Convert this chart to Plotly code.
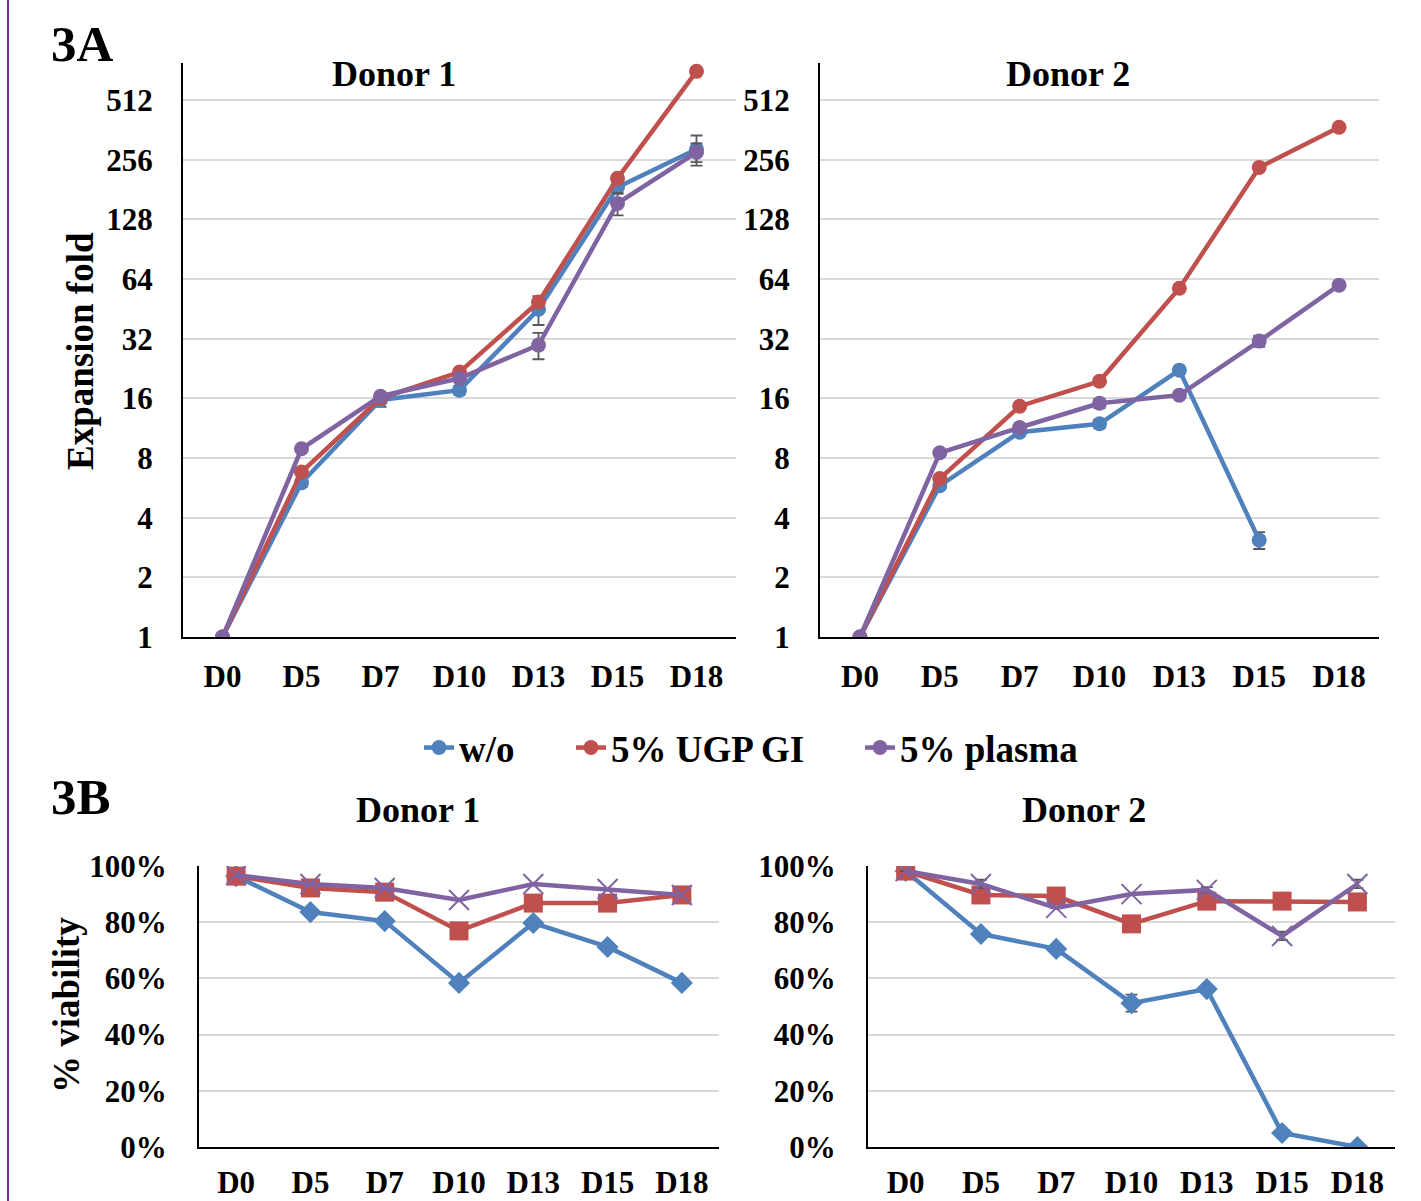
import plotly.graph_objects as go

# ---- data ---------------------------------------------------------------
days = ["D0", "D5", "D7", "D10", "D13", "D15", "D18"]
series_names = ["w/o", "5% UGP GI", "5% plasma"]
colors = ["#4F81BD", "#C0504D", "#8064A2"]

# 3A: expansion fold (log2 scale)
fold_d1_wo = [1, 6.0, 15.7, 17.6, 45, 186, 289]
fold_d1_ugp = [1, 6.8, 16.0, 21.7, 49, 206, 714]
fold_d1_plasma = [1, 8.9, 16.4, 20.2, 29.7, 154, 279]
err_d1_wo = [0, 0.3, 1.2, 0.9, 7.5, 14, 50]
err_d1_ugp = [0, 0, 0, 0, 0, 0, 0]
err_d1_plasma = [0, 0, 0, 0, 4.5, 20, 30]

fold_d2_wo = [1, 5.8, 10.8, 11.9, 22.2, 3.08, None]
fold_d2_ugp = [1, 6.3, 14.6, 19.5, 57.5, 234, 373]
fold_d2_plasma = [1, 8.5, 11.4, 15.1, 16.6, 31.1, 59.6]
err_d2_wo = [0, 0, 0, 0.6, 0, 0.3, 0]
err_d2_ugp = [0, 0, 0, 0, 0, 0, 0]
err_d2_plasma = [0, 0, 0, 0.8, 0, 2.0, 1.5]

fold_ticks = [1, 2, 4, 8, 16, 32, 64, 128, 256, 512]

# 3B: % viability
via_d1_wo = [96.4, 83.6, 80.4, 58.4, 79.7, 71.2, 58.4]
via_d1_ugp = [96.4, 92.2, 90.7, 76.9, 86.8, 86.8, 89.7]
via_d1_plasma = [96.8, 93.6, 92.2, 87.9, 93.6, 91.8, 89.7]

via_d2_wo = [98.2, 75.8, 70.5, 51.2, 56.2, 5.0, 0.0]
via_d2_ugp = [98.2, 89.7, 89.3, 79.4, 87.5, 87.5, 87.2]
via_d2_plasma = [98.2, 93.6, 85.1, 90.0, 91.5, 75.1, 93.6]
err_via_d2_wo = [0, 0, 0, 3.0, 0, 0, 0]
err_via_d2_plasma = [0, 1.5, 0, 0, 1.0, 1.5, 1.5]

via_ticks = [0, 20, 40, 60, 80, 100]
via_labels = ["0%", "20%", "40%", "60%", "80%", "100%"]

# ---- layout constants -----------------------------------------------------
W, H = 1421, 1201
FONT = "Liberation Serif"
GRID = "#D9D9D9"
ERRC = "#595959"


def px_x(p):
    return p / W


def px_y(p):
    return 1 - p / H


fig = go.Figure()
legend_ids = ["legend", "legend2", "legend3"]


def add_fold(xa, ya, vals, errs, idx, show):
    fig.add_trace(go.Scatter(
        x=days, y=vals, name=series_names[idx], mode="lines+markers",
        line=dict(color=colors[idx], width=4.5),
        marker=dict(symbol="circle", size=15, color=colors[idx]),
        error_y=dict(type="data", array=errs, visible=any(e > 0 for e in errs),
                     color=ERRC, thickness=1.8, width=6),
        xaxis=xa, yaxis=ya, showlegend=show, legend=legend_ids[idx],
        connectgaps=False,
    ))


add_fold("x", "y", fold_d1_wo, err_d1_wo, 0, True)
add_fold("x", "y", fold_d1_ugp, err_d1_ugp, 1, True)
add_fold("x", "y", fold_d1_plasma, err_d1_plasma, 2, True)
add_fold("x2", "y2", fold_d2_wo, err_d2_wo, 0, False)
add_fold("x2", "y2", fold_d2_ugp, err_d2_ugp, 1, False)
add_fold("x2", "y2", fold_d2_plasma, err_d2_plasma, 2, False)


def add_via(xa, ya, vals, errs, idx, symbol, size):
    mk = dict(symbol=symbol, size=size, color=colors[idx])
    if symbol == "x-thin":
        mk["line"] = dict(color=colors[idx], width=2)
    fig.add_trace(go.Scatter(
        x=days, y=vals, name=series_names[idx], mode="lines+markers",
        line=dict(color=colors[idx], width=4.5),
        marker=mk,
        error_y=dict(type="data", array=errs, visible=any(e > 0 for e in errs),
                     color=ERRC, thickness=1.8, width=6),
        xaxis=xa, yaxis=ya, showlegend=False,
    ))


zero = [0] * 7
for xa, ya, wo, ugp, pl, ewo, epl in [
    ("x3", "y3", via_d1_wo, via_d1_ugp, via_d1_plasma, zero, zero),
    ("x4", "y4", via_d2_wo, via_d2_ugp, via_d2_plasma, err_via_d2_wo, err_via_d2_plasma),
]:
    add_via(xa, ya, wo, ewo, 0, "diamond", 17)
    add_via(xa, ya, ugp, zero, 1, "square", 19)
    add_via(xa, ya, pl, epl, 2, "x-thin", 20)

tick_font = dict(family=FONT, size=31, color="black", weight="bold")

xcommon = dict(type="category", range=[-0.5, 6.5], showline=True, linecolor="black",
               linewidth=2, showgrid=False, ticks="", tickfont=tick_font,
               ticklabelstandoff=11, automargin=False)
xlow = dict(xcommon, ticklabelstandoff=7)
ylog = dict(type="log", range=[0, 9.62 * 0.30103], tickvals=fold_ticks,
            ticktext=[str(v) for v in fold_ticks], showline=True, linecolor="black",
            linewidth=2, showgrid=True, gridcolor=GRID, gridwidth=2, ticks="",
            tickfont=tick_font, ticklabelstandoff=22, zeroline=False, automargin=False)
ylin = dict(range=[0, 100], tickvals=via_ticks, ticktext=via_labels, showline=True,
            linecolor="black", linewidth=2, showgrid=True, gridcolor=GRID, gridwidth=2,
            ticks="", tickfont=tick_font, ticklabelstandoff=24, zeroline=False,
            automargin=False)

legend_font = dict(family=FONT, size=37, color="black", weight="bold")
legend_x = [419, 571, 860]


def legend_box(px):
    return dict(x=px_x(px), xanchor="left", y=px_y(748), yanchor="middle",
                orientation="h", font=legend_font, bgcolor="rgba(0,0,0,0)",
                itemwidth=30, borderwidth=0)


fig.update_layout(
    template="none",
    width=W, height=H,
    margin=dict(l=0, r=0, t=0, b=0, autoexpand=False),
    paper_bgcolor="white", plot_bgcolor="white",
    font=dict(family=FONT, color="black"),
    xaxis=dict(xcommon, domain=[px_x(183), px_x(736)], anchor="y"),
    yaxis=dict(ylog, domain=[px_y(637), px_y(63)], anchor="x"),
    xaxis2=dict(xcommon, domain=[px_x(820), px_x(1379)], anchor="y2"),
    yaxis2=dict(ylog, domain=[px_y(637), px_y(63)], anchor="x2"),
    xaxis3=dict(xlow, domain=[px_x(199), px_x(719)], anchor="y3"),
    yaxis3=dict(ylin, domain=[px_y(1147), px_y(866)], anchor="x3"),
    xaxis4=dict(xlow, domain=[px_x(868), px_x(1395)], anchor="y4"),
    yaxis4=dict(ylin, domain=[px_y(1147), px_y(866)], anchor="x4"),
    showlegend=True,
    legend=legend_box(legend_x[0]),
    legend2=legend_box(legend_x[1]),
    legend3=legend_box(legend_x[2]),
)


def label(text, x, y, size, angle=0, xanchor="center"):
    fig.add_annotation(text=text, x=px_x(x), y=px_y(y), xref="paper", yref="paper",
                       showarrow=False, textangle=angle, xanchor=xanchor,
                       yanchor="middle",
                       font=dict(family=FONT, size=size, color="black", weight="bold"))


label("3A", 49, 44, 51, xanchor="left")
label("3B", 49, 797, 51, xanchor="left")
label("Donor 1", 394, 74, 36)
label("Donor 2", 1068, 74, 36)
label("Donor 1", 418, 810, 36)
label("Donor 2", 1084, 810, 36)
label("Expansion fold", 80, 351, 37, angle=-90)
label("% viability", 66, 1005, 37, angle=-90)

# purple frame line along the left edge
fig.add_shape(type="line", xref="paper", yref="paper", x0=px_x(8), x1=px_x(8),
              y0=0, y1=1, line=dict(color="#7030A0", width=2))

fig.write_html("out.html")
